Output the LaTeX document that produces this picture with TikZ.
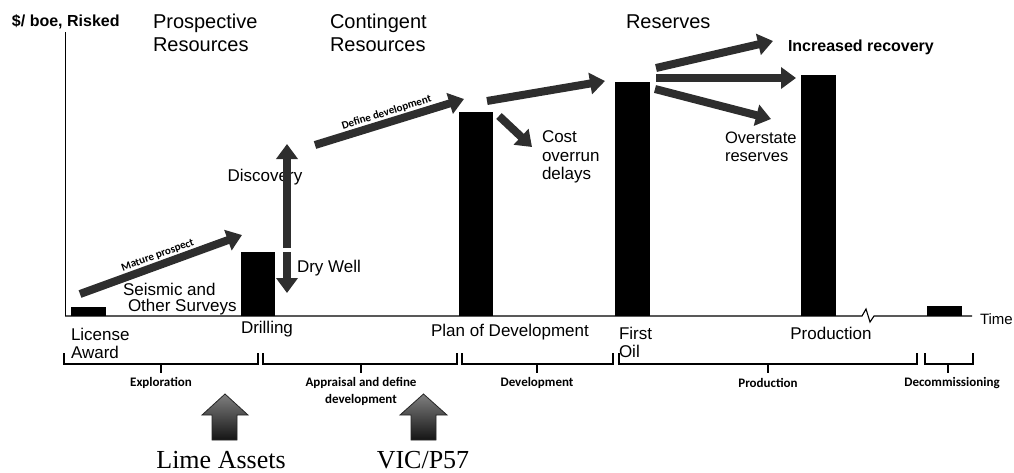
\documentclass[tikz,border=0pt]{standalone}
\usepackage{fontspec}
\setmainfont{Liberation Sans}
\newfontfamily\calfont{Carlito}
\newfontfamily\tmsfont{Liberation Serif}
\usetikzlibrary{arrows.meta}
\begin{document}
\begin{tikzpicture}[x=1pt,y=-1pt,
  every node/.style={inner sep=0pt, outer sep=0pt},
  bar/.style={fill=black},
  fat/.style={line width=8pt, draw=black!82, -{Triangle[length=15pt 0,width=21pt 0]}},
  head/.style={font=\fontsize{20}{23}\selectfont, align=left, anchor=west},
  lbl/.style={font=\fontsize{17}{18}\selectfont, align=left, anchor=west},
  small/.style={font=\calfont\bfseries\fontsize{13}{17}\selectfont, align=center},
  slab/.style={font=\calfont\bfseries\fontsize{11}{12}\selectfont},
  brack/.style={line width=1.2pt},
  bigarrow/.style={draw=black!85, line width=0.8pt, top color=black!50, bottom color=black!92},
  asset/.style={font=\tmsfont\fontsize{26}{28}\selectfont, anchor=base}
]
\useasboundingbox (0,0) rectangle (1014,472);

% axes
\coordinate (ytop) at (65,32);
\coordinate (orig) at (65,316);
\coordinate (xend) at (972,316);
\draw[line width=1pt] (ytop) -- (orig);
\draw[line width=1.1pt] (orig) -- (862,316) -- (866,309) -- (870,322) -- (874,316) -- (xend);

% bars
\fill[bar] (71,307) rectangle (106,316);
\fill[bar] (241,252) rectangle (275,316);
\fill[bar] (459,112) rectangle (493,316);
\fill[bar] (615,82) rectangle (650,316);
\fill[bar] (801,75) rectangle (836,316);
\fill[bar] (927,306) rectangle (962,316);

% top labels
\node[anchor=west, font=\bfseries\fontsize{16}{18}\selectfont] (yl) at (12,22) {\$/ boe, Risked};
\node[head] (pr) at (153,33) {Prospective\\Resources};
\node[head] (cr) at (330,33) {Contingent\\Resources};
\node[head] (rs) at (626,22) {Reserves};
\node[anchor=west, font=\bfseries\fontsize{16}{18}\selectfont] (ir) at (788,47) {Increased recovery};
\node[lbl, font=\fontsize{16.5}{18}\selectfont] (os) at (725,147) {Overstate\\reserves};
\node[lbl, font=\fontsize{17}{18.5}\selectfont] (co) at (542,157) {Cost\\overrun\\delays};
\node[font=\fontsize{17}{18}\selectfont] (disc) at (265,177) {Discovery};
\node[lbl] (dw) at (297,268) {Dry Well};
\node[lbl, font=\fontsize{17}{16}\selectfont] (ss) at (123,299) {Seismic and\\\hspace*{5pt}Other Surveys};

% axis labels
\node[lbl] (la) at (71,343) {License\\Award};
\node[lbl] (dr) at (241,329) {Drilling};
\node[font=\fontsize{17}{18}\selectfont] (pd) at (510,332) {Plan of Development};
\node[lbl] (fo) at (619,342) {First\\Oil};
\node[font=\fontsize{17}{18}\selectfont] (pn) at (831,333) {Production};
\node[anchor=west, font=\fontsize{15}{17}\selectfont] (tm) at (980,319) {Time};

% brackets
\draw[brack] (64,353) -- (64,364) -- (258,364) -- (258,353) (161,364) -- (161,373);
\draw[brack] (263,353) -- (263,364) -- (457,364) -- (457,353) (361,364) -- (361,373);
\draw[brack] (462,353) -- (462,364) -- (613,364) -- (613,353) (537,364) -- (537,373);
\draw[brack] (619,353) -- (619,364) -- (917,364) -- (917,353) (768,364) -- (768,373);
\draw[brack] (925,353) -- (925,364) -- (973,364) -- (973,353) (948,364) -- (948,373);
\node[small] (ex) at (161,383) {Exploration};
\node[small] (ap) at (361,391) {Appraisal and define\\development};
\node[small] (dv) at (537,383) {Development};
\node[small] (pp) at (768,383) {Production};
\node[small] (dc) at (952,383) {Decommissioning};

% thick arrows
\coordinate (m1) at (80,294); \coordinate (m2) at (242,235);
\draw[fat] (m1) -- node[slab, sloped, above=5pt] (mp) {Mature prospect} (m2);
\coordinate (d0) at (287,248); \coordinate (d1) at (287,144);
\draw[fat] (d0) -- (d1);
\coordinate (w0) at (287,252); \coordinate (w1) at (287,293);
\draw[fat] (w0) -- (w1);
\coordinate (e1) at (315,145); \coordinate (e2) at (464,99);
\draw[fat] (e1) -- node[slab, sloped, above=5pt] (ddv) {Define development} (e2);
\coordinate (f1) at (487,101); \coordinate (f2) at (605,81);
\draw[fat] (f1) -- (f2);
\coordinate (c1) at (499,116); \coordinate (c2) at (532,147);
\draw[fat] (c1) -- (c2);
\coordinate (g0) at (656,68); \coordinate (g1) at (773,41);
\draw[fat] (g0) -- (g1);
\coordinate (h0) at (656,78); \coordinate (h1) at (796,78);
\draw[fat] (h0) -- (h1);
\coordinate (k0) at (655,89); \coordinate (k1) at (771,119);
\draw[fat] (k0) -- (k1);

% bottom block arrows
\draw[bigarrow] (212,440) -- (212,415) -- (202,415) -- (225,394) -- (248,415) -- (237,415) -- (237,440) -- cycle;
\draw[bigarrow] (411,440) -- (411,415) -- (400,415) -- (423.5,394) -- (447,415) -- (436,415) -- (436,440) -- cycle;
\node[asset] (lime) at (221,468) {Lime Assets};
\node[asset] (vic) at (423,468) {VIC/P57};
\end{tikzpicture}
\end{document}
